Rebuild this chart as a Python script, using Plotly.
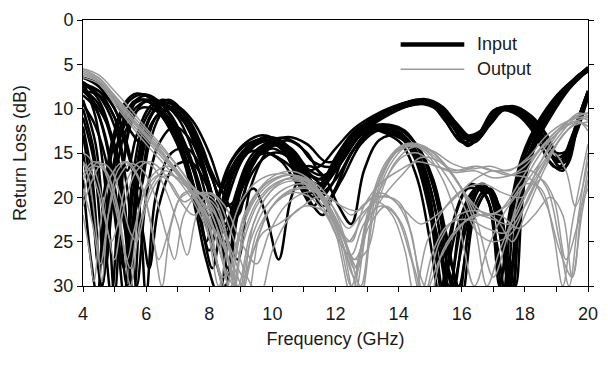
import plotly.graph_objects as go

# ---------------- data: (frequency GHz, return loss dB) ----------------
IN01 = [(4,7),(4.4,11),(4.8,22),(5.0,31),(5.3,16),(5.7,9),(6.1,8.6),(6.6,10.5),(7.1,14),(7.6,20),(8.0,26),(8.3,22),(8.7,17),(9.2,14.5),(9.8,13.2),(10.4,14.5),(11.0,17.5),(11.5,18.5),(12.0,15.5),(12.6,12.5),(13.2,11.2),(13.8,10.2),(14.4,9.2),(15.0,9.5),(15.5,11.5),(16.0,13.8),(16.5,13),(17.0,10.2),(17.5,10),(18.1,11.5),(18.7,14.5),(19.1,16),(19.5,13),(20,8.2)]
IN02 = [(4,7.5),(4.3,9),(4.7,13),(5.1,21),(5.4,30),(5.7,18),(6.1,11),(6.5,9.5),(7.0,11),(7.5,15),(8.0,21),(8.3,24),(8.7,18),(9.2,14.5),(9.8,13.5),(10.4,15),(10.9,19),(11.3,21),(11.8,17),(12.4,13.5),(13.0,12),(13.6,12.5),(14.2,13.5),(14.7,17),(15.2,24),(15.6,31),(16.0,22),(16.5,19),(16.9,21),(17.3,31),(17.6,21),(18.0,15),(18.6,10.7),(19.3,7.5),(20,5.6)]
IN03 = [(4,8),(4.5,8.5),(5.0,11),(5.4,17),(5.7,13),(6.2,9.5),(6.8,9.5),(7.3,12),(7.8,17),(8.3,24),(8.6,28),(8.9,19),(9.4,15),(10.0,13.8),(10.6,14.5),(11.2,17),(11.7,17.5),(12.2,14.5),(12.8,12),(13.4,11),(14.0,9.8),(14.6,9),(15.2,9.8),(15.7,12),(16.2,14.2),(16.6,12.8),(17.1,10),(17.7,10.2),(18.2,12),(18.8,16),(19.2,17),(19.6,12.5),(20,8.5)]
IN04 = [(4,9),(4.4,14),(4.7,25),(4.9,31),(5.2,18),(5.6,11),(6.0,9.2),(6.4,10),(6.9,13),(7.4,18),(7.8,24),(8.1,28),(8.5,20),(9.0,15.5),(9.6,13.8),(10.2,14),(10.8,17),(11.3,20),(11.8,18),(12.3,14.5),(12.9,12.5),(13.5,12.2),(14.0,13),(14.5,15.5),(15.0,22),(15.4,31),(15.8,22),(16.3,18.5),(16.8,20),(17.2,30),(17.5,22),(17.9,15.5),(18.5,11),(19.2,7.8),(20,5.8)]
IN05 = [(4,6.5),(4.5,7.2),(5.0,9),(5.5,12.5),(5.9,14),(6.3,11),(6.8,9.8),(7.3,11),(7.8,14.5),(8.3,20),(8.7,23),(9.1,18),(9.6,14.5),(10.2,13.3),(10.8,14),(11.3,16),(11.9,16.5),(12.4,14),(13.0,11.5),(13.6,10.2),(14.2,9.5),(14.8,8.9),(15.4,9.8),(15.9,12),(16.4,13.6),(16.8,12),(17.3,9.8),(17.9,10.5),(18.4,12.5),(18.9,15.5),(19.3,15),(19.7,11),(20,8)]
IN06 = [(4,10),(4.3,14),(4.6,20),(4.9,14),(5.3,9.5),(5.7,8.3),(6.2,9),(6.7,11.5),(7.2,15),(7.6,20),(7.9,25),(8.2,21),(8.6,16.5),(9.1,14),(9.7,13),(10.3,14),(10.8,16.5),(11.3,19),(11.8,17.5),(12.4,14),(13.0,12.2),(13.6,12.8),(14.1,14),(14.6,18),(15.0,25),(15.3,31),(15.7,23),(16.2,19),(16.7,19.5),(17.1,25),(17.4,31),(17.7,20),(18.1,14.5),(18.7,10.5),(19.4,7.3),(20,5.4)]
IN07 = [(4,12),(4.3,18),(4.6,30),(4.9,19),(5.3,11),(5.7,9),(6.2,9.5),(6.7,12),(7.2,16),(7.6,22),(7.9,27),(8.3,31),(8.7,22),(9.2,17),(9.8,14.5),(10.4,14.2),(11.0,17),(11.5,20),(11.9,18.5),(12.4,14),(13.0,11.8),(13.6,10.8),(14.2,9.6),(14.8,9.2),(15.3,10.4),(15.8,13),(16.3,14),(16.8,11.5),(17.3,10.2),(17.8,10.8),(18.3,12.8),(18.9,16.5),(19.3,16.5),(19.7,11.5),(20,8.5)]
IN08 = [(4,8),(4.5,10),(5.0,14),(5.3,20),(5.6,31),(5.9,17),(6.3,11),(6.7,10),(7.2,11.5),(7.7,15),(8.1,20),(8.5,25),(8.9,20),(9.4,15.5),(10.0,14),(10.6,15),(11.1,18),(11.6,21),(12.0,19),(12.5,15),(13.1,12.5),(13.7,12.8),(14.3,14),(14.8,18),(15.3,26),(15.7,31),(16.1,23),(16.6,18.5),(17.0,20),(17.4,28),(17.6,31),(17.9,19),(18.3,14),(18.9,10),(19.5,7),(20,5.3)]
IN09 = [(4,7),(4.5,9),(4.9,13),(5.2,19),(5.5,28),(5.8,16),(6.2,10.5),(6.7,9),(7.2,10.5),(7.7,14),(8.2,19),(8.6,25),(8.9,27),(9.3,19),(9.9,14.5),(10.5,13.6),(11.1,15),(11.6,17.5),(12.1,16),(12.7,13),(13.3,11.2),(13.9,10),(14.5,9.2),(15.1,9.3),(15.6,11),(16.1,13),(16.6,12.5),(17.1,10.2),(17.6,9.8),(18.2,11.2),(18.8,15),(19.2,16),(19.6,12),(20,8)]
IN10 = [(4,15),(4.3,22),(4.6,30),(4.9,18),(5.3,12),(5.8,9.5),(6.3,9),(6.8,10.8),(7.3,14.5),(7.8,20),(8.2,27),(8.5,30),(8.9,22),(9.4,19),(9.8,22),(10.2,27),(10.6,20),(11.1,16.5),(11.6,17.5),(12.1,21),(12.5,23),(12.9,17),(13.4,13.5),(14.0,13),(14.5,14.5),(15.0,19),(15.5,27),(15.9,31),(16.3,22),(16.8,19),(17.2,22),(17.5,31),(17.8,20),(18.2,14.5),(18.8,10.5),(19.4,7.5),(20,5.5)]
IN11 = [(4,7.5),(4.5,8),(5.0,10),(5.4,14.5),(5.8,19),(6.1,14),(6.5,10.5),(7.0,9.8),(7.5,11.5),(8.0,15),(8.5,20),(8.9,22),(9.3,17),(9.9,14),(10.5,13.2),(11.1,14),(11.7,16),(12.2,15.5),(12.8,12.5),(13.4,10.8),(14.0,9.6),(14.6,9),(15.2,9.4),(15.8,11.5),(16.3,13.2),(16.8,12),(17.3,10),(17.9,10.3),(18.5,12.5),(19.0,16),(19.4,15),(19.8,10),(20,8)]
IN12 = [(4,9.5),(4.4,12),(4.8,17),(5.1,25),(5.3,31),(5.6,19),(6.0,12),(6.5,9.5),(7.0,10.5),(7.5,13.5),(8.0,18.5),(8.4,24),(8.8,21),(9.3,16),(9.9,14),(10.5,14.3),(11.0,16.5),(11.5,19.5),(12.0,18),(12.6,14.5),(13.2,12.5),(13.8,12.3),(14.3,13.5),(14.8,16.5),(15.2,22),(15.6,30),(16.0,23),(16.5,18.8),(16.9,19.5),(17.3,26),(17.6,30),(17.9,17.5),(18.4,12.8),(19.0,9),(19.6,6.5),(20,5.5)]
IN13 = [(4,18),(4.25,27),(4.45,31),(4.7,20),(5.1,12),(5.5,9),(6.0,8.4),(6.5,9.5),(7.0,12.5),(7.5,17),(7.9,23),(8.2,26),(8.6,20),(9.1,15.5),(9.7,13.7),(10.3,13.8),(10.9,16),(11.4,18),(11.9,16.8),(12.5,13.5),(13.1,11.7),(13.7,10.5),(14.3,9.4),(14.9,9.1),(15.4,10.2),(16.0,13.2),(16.5,13.5),(17.0,10.8),(17.5,9.8),(18.0,10.8),(18.6,13.5),(19.1,16.5),(19.5,14),(20,8.8)]
IN14 = [(4,11),(4.35,16),(4.7,28),(4.95,20),(5.3,13),(5.8,10),(6.3,10.2),(6.8,12.5),(7.3,16.5),(7.7,21),(8.0,23),(8.4,19),(8.9,15.5),(9.5,13.6),(10.1,13.3),(10.7,15),(11.2,18),(11.7,20.5),(12.2,18),(12.8,14),(13.4,12.4),(14.0,12.8),(14.5,14.8),(15.0,20),(15.4,30),(15.8,24),(16.3,19.5),(16.7,18.5),(17.2,24),(17.5,30),(17.8,21),(18.2,15),(18.8,11),(19.4,7.8),(20,5.7)]
IN15 = [(4,7),(4.5,8.5),(5.0,12),(5.4,19),(5.7,30),(6.0,20),(6.4,14),(6.9,12),(7.4,13.5),(7.9,17.5),(8.3,22),(8.6,24),(9.0,19),(9.5,15.5),(10.0,14.5),(10.5,15.5),(11.0,17),(11.5,16.5),(12.0,14.5),(12.6,12.2),(13.2,10.8),(13.8,9.8),(14.4,9.2),(15.0,9.2),(15.6,10.8),(16.1,13),(16.6,13),(17.1,10.5),(17.6,9.7),(18.2,10.8),(18.7,13),(19.1,15.5),(19.5,13.5),(20,8.2)]
IN16 = [(4,6.5),(4.5,7.5),(5.0,10),(5.4,14),(5.8,22),(6.0,31),(6.3,20),(6.8,15),(7.3,14.5),(7.8,17),(8.2,21),(8.5,23),(8.9,19),(9.3,16),(9.8,15),(10.4,16),(11.0,18),(11.4,19),(11.9,17),(12.5,13.5),(13.1,12),(13.7,11.8),(14.2,12.5),(14.7,15),(15.2,20),(15.7,28),(16.0,31),(16.4,22),(16.9,19),(17.3,23),(17.6,31),(17.9,19),(18.3,13.5),(18.9,9.8),(19.5,7),(20,5.4)]
IN17 = [(4,8.5),(4.4,10),(4.8,15),(5.1,24),(5.3,28),(5.6,17),(6.0,11),(6.5,9),(7.0,9.8),(7.5,12.5),(8.0,16.5),(8.4,19),(8.8,17),(9.2,15),(9.7,14.8),(10.3,16),(10.8,18.5),(11.3,19.5),(11.8,17),(12.4,13.8),(13.0,11.5),(13.6,10.5),(14.2,9.8),(14.8,9.5),(15.4,10.5),(15.9,12.5),(16.4,13.8),(16.9,11.8),(17.4,10),(18.0,10.5),(18.5,12),(19.0,15),(19.4,14.5),(19.8,10),(20,8.3)]
IN18 = [(4,13),(4.3,20),(4.5,28),(4.8,20),(5.2,12.5),(5.6,9.5),(6.1,9),(6.6,10.5),(7.1,13.5),(7.6,18),(8.0,22),(8.3,20),(8.7,16),(9.2,14),(9.8,13.5),(10.4,15),(10.9,18.5),(11.3,21),(11.6,22),(12.0,19),(12.6,14.5),(13.2,12.5),(13.8,12),(14.3,13),(14.9,16.5),(15.3,22),(15.7,30),(16.1,24),(16.6,19),(17.0,19.5),(17.4,26),(17.7,30),(18.0,18),(18.5,12.8),(19.1,9),(19.7,6.2),(20,5.6)]
IN19 = [(4,7.8),(4.5,9.5),(5.0,15),(5.3,23),(5.5,26),(5.8,17),(6.2,11.5),(6.7,10),(7.2,11),(7.7,14.5),(8.1,18),(8.5,21),(8.9,20),(9.4,16),(9.9,14.2),(10.5,14.6),(11.1,17),(11.6,18.5),(12.1,16.5),(12.7,13),(13.3,11.5),(13.9,10.3),(14.5,9.5),(15.1,9.6),(15.7,11.8),(16.2,14),(16.7,12.5),(17.2,10.3),(17.8,10.3),(18.3,11.8),(18.9,15.5),(19.3,16),(19.7,11.2),(20,8.6)]
IN20 = [(4,7.2),(4.5,8),(5.0,11),(5.5,16),(5.9,24),(6.1,28),(6.4,21),(6.9,16.5),(7.4,16),(7.9,18.5),(8.3,23),(8.6,29),(8.9,22),(9.4,17),(10.0,15),(10.6,15.5),(11.2,17.5),(11.7,18),(12.2,16),(12.8,13),(13.4,12),(14.0,12.3),(14.6,14.2),(15.1,18),(15.5,24),(15.9,30),(16.3,23),(16.8,19.5),(17.2,21),(17.5,28),(17.8,24),(18.1,16),(18.7,11),(19.3,7.8),(20,5.5)]

OUT01 = [(4,5.6),(4.5,6.5),(5.0,8.5),(5.5,10.5),(6.0,12.5),(6.5,14.5),(7.0,16.5),(7.5,19),(8.0,22.5),(8.4,27),(8.7,31),(9.0,26),(9.5,21),(10.0,18.8),(10.6,17.8),(11.2,18.5),(11.7,21),(12.2,25),(12.6,31),(13.0,23),(13.5,17),(14.0,14.5),(14.5,14),(15.0,15),(15.5,16.5),(16.0,17),(16.5,16.5),(17.0,17),(17.5,17.5),(18.0,16.5),(18.6,14),(19.2,12),(20,11)]
OUT02 = [(4,6),(4.5,6.8),(5.0,8.8),(5.5,11),(6.0,13),(6.5,15),(7.0,17),(7.5,19.5),(8.0,23),(8.5,31),(8.8,26),(9.2,21.5),(9.8,18.5),(10.4,17.5),(11.0,18),(11.6,20.5),(12.1,24.5),(12.5,30),(12.9,24),(13.4,18),(13.9,15),(14.5,14.2),(15.1,14.8),(15.7,16.2),(16.3,16.8),(16.9,16.5),(17.5,17),(18.1,15.5),(18.7,13),(19.3,11.5),(20,10.8)]
OUT03 = [(4,6.2),(4.5,7),(5.0,9.2),(5.5,11.5),(6.0,13.5),(6.5,15.5),(7.0,17.5),(7.5,20),(7.9,23),(8.3,30),(8.6,25),(9.0,20.5),(9.6,18),(10.3,17.3),(10.9,18),(11.5,20.5),(12.0,24),(12.5,31),(13.0,22),(13.6,16),(14.2,14),(14.8,14.8),(15.4,18),(15.9,23),(16.4,30),(16.8,26),(17.3,22),(17.9,19),(18.5,16),(19.1,13),(19.6,11),(20,10.5)]
OUT04 = [(4,16),(4.2,18),(4.45,25),(4.6,29.5),(4.8,22),(5.1,17),(5.4,16),(5.8,18),(6.2,24),(6.5,30),(6.8,23),(7.2,19.5),(7.7,19.5),(8.2,23),(8.7,31),(9.1,24),(9.6,20),(10.2,18.2),(10.8,18),(11.4,19.5),(11.9,22),(12.4,25),(12.9,22),(13.4,20),(14.0,20.5),(14.4,24),(14.8,31),(15.3,25),(15.9,22),(16.5,21.5),(17.1,22.5),(17.6,25),(18.0,22),(18.6,17),(19.2,13),(19.7,11.5),(20,12)]
OUT05 = [(4,18),(4.3,16.5),(4.7,17),(5.0,20),(5.3,26),(5.5,30),(5.8,23),(6.2,18.5),(6.6,17),(7.0,18),(7.5,19.5),(8.0,21.5),(8.5,26),(8.9,31),(9.3,25),(9.8,21),(10.4,19),(11.0,18.5),(11.6,20),(12.1,23),(12.5,26.5),(12.9,23),(13.4,21),(13.9,22),(14.4,27),(14.7,31),(15.1,26),(15.6,23),(16.2,22.5),(16.8,23.5),(17.4,24),(18.0,21),(18.5,18),(18.9,20),(19.3,27),(19.6,24),(20,17)]
OUT06 = [(4,20),(4.25,17),(4.5,16),(4.8,17.5),(5.1,21),(5.4,27),(5.6,24),(6.0,19),(6.4,17.5),(6.8,18.5),(7.2,20.5),(7.7,19.5),(8.2,20.5),(8.6,25),(9.0,31),(9.4,26),(9.9,21.5),(10.5,19.5),(11.1,19),(11.7,20.5),(12.2,24),(12.6,28),(13.0,23),(13.5,20),(14.1,17.5),(14.7,15.5),(15.3,16),(15.9,18.5),(16.4,23),(16.8,30),(17.2,26),(17.8,21),(18.4,17),(19.0,14),(19.5,12),(20,11.5)]
OUT07 = [(4,5.8),(4.5,6.6),(5.0,8.6),(5.5,10.8),(6.0,12.8),(6.5,14.8),(7.0,17.2),(7.5,19.7),(8.0,23.5),(8.4,29),(8.7,28),(9.1,22),(9.7,18.7),(10.3,17.6),(10.9,17.7),(11.5,19.5),(12.0,23),(12.4,27),(12.8,31),(13.2,22),(13.7,16.5),(14.3,14.2),(14.9,14.5),(15.5,16.5),(16.1,19.5),(16.6,22),(17.2,21.5),(17.8,18.5),(18.4,15),(19.0,12.5),(19.6,11),(20,11.3)]
OUT08 = [(4,22),(4.2,26),(4.35,29.5),(4.55,23),(4.9,17.5),(5.3,16),(5.7,17.5),(6.1,22),(6.4,27),(6.7,24),(7.1,20),(7.6,19.5),(8.1,21),(8.6,27),(8.9,31),(9.3,27),(9.7,24),(10.2,23),(10.8,21.5),(11.4,20),(12.0,20.5),(12.5,22),(12.9,20.8),(13.4,19.5),(13.9,20.5),(14.3,23),(14.7,29),(15.0,31),(15.4,26),(16.0,23),(16.6,22),(17.2,22),(17.8,23.5),(18.3,22),(18.8,20),(19.2,22),(19.5,29),(19.8,22),(20,18)]
OUT09 = [(4,17.5),(4.3,16),(4.6,16.5),(4.9,19.5),(5.2,24),(5.5,28),(5.8,21),(6.2,17.5),(6.7,16.5),(7.2,18),(7.7,19.5),(8.2,22),(8.7,28),(9.0,31),(9.4,23),(9.9,19.5),(10.5,18.2),(11.1,18.5),(11.7,21),(12.2,25),(12.6,29),(13.0,22.5),(13.5,18.5),(14.1,15.5),(14.6,15),(15.2,16.5),(15.8,17.2),(16.4,17),(17.0,17.8),(17.6,17.5),(18.2,17),(18.7,19),(19.1,25),(19.4,30),(19.7,22),(20,15)]
OUT10 = [(4,6.5),(4.5,7.2),(5.0,9.5),(5.5,11.8),(6.0,14),(6.5,16),(7.0,18),(7.5,20.5),(7.9,23.5),(8.3,28),(8.6,31),(9.0,24),(9.5,20),(10.1,18),(10.7,17.5),(11.3,18.5),(11.8,21.5),(12.3,25),(12.7,28),(13.1,21),(13.6,16.5),(14.2,14.2),(14.8,14.6),(15.4,17),(16.0,20.5),(16.5,24),(17.0,25),(17.6,24),(18.1,20),(18.6,16.5),(19.2,13),(19.7,11.5),(20,12.5)]
OUT11 = [(4,15),(4.2,15.5),(4.5,18.5),(4.8,24),(5.0,27),(5.3,21),(5.7,17),(6.1,16),(6.5,17),(7.0,20),(7.5,22),(7.9,21),(8.3,22.5),(8.8,28),(9.2,31),(9.6,24),(10.1,20.5),(10.7,19),(11.3,19),(11.9,21),(12.4,23.5),(12.8,22),(13.3,20.5),(13.8,22),(14.2,26),(14.5,31),(14.9,25),(15.5,21),(16.1,19),(16.7,18.5),(17.3,19.5),(17.9,20),(18.4,17.5),(18.9,15),(19.3,17),(19.6,21),(20,16)]
OUT12 = [(4,5.5),(4.5,6.2),(5.0,8),(5.5,10),(6.0,12.2),(6.5,14.2),(7.0,16.5),(7.5,19),(8.0,22),(8.5,28),(8.8,30),(9.1,23),(9.6,19),(10.2,17.3),(10.8,17.2),(11.4,18.8),(11.9,22),(12.4,26),(12.8,30),(13.2,21),(13.7,16),(14.2,14),(14.8,14.2),(15.4,16),(16.0,19),(16.5,23),(17.0,29),(17.4,25),(17.9,19),(18.5,15),(19.1,12.5),(19.7,10.5),(20,10.8)]
OUT13 = [(4,19),(4.3,23),(4.55,27.5),(4.8,22),(5.1,18),(5.5,16.2),(5.9,17),(6.3,20),(6.7,25),(6.9,27),(7.2,22),(7.7,19.5),(8.2,20),(8.7,24),(9.2,29),(9.6,31),(10.0,26),(10.5,22.5),(11.0,21),(11.6,21.5),(12.1,23.5),(12.5,25),(12.9,21),(13.4,18.5),(14.0,17),(14.6,16),(15.2,16.5),(15.8,17),(16.4,16.5),(17.0,17),(17.6,16.8),(18.2,15.5),(18.8,13.5),(19.3,12),(19.7,11.5),(20,12)]
OUT14 = [(4,21),(4.3,18),(4.6,16.2),(4.9,17),(5.2,20),(5.5,24),(5.7,25),(6.0,21),(6.4,18),(6.8,17.5),(7.3,18.5),(7.7,19.5),(8.2,21),(8.7,26),(9.1,29),(9.5,24),(10.0,21),(10.6,19.5),(11.2,20),(11.7,22),(12.2,25.5),(12.6,27),(13.1,23),(13.6,21),(14.1,23),(14.5,28),(14.8,31),(15.3,27),(15.8,24),(16.4,22),(17.0,22.5),(17.5,23),(18.0,20),(18.5,16),(19.0,13),(19.5,11),(20,10.5)]
OUT15 = [(4,6),(4.5,6.9),(5.0,9),(5.5,11.2),(6.0,13.2),(6.5,15.2),(7.0,17.3),(7.5,19.8),(8.0,22.5),(8.5,26),(8.9,30),(9.3,24),(9.8,20),(10.4,18),(11.0,17.8),(11.6,19.2),(12.1,22.5),(12.6,27),(13.0,26),(13.4,20),(13.9,16),(14.5,14.3),(15.1,15),(15.7,17.5),(16.2,20),(16.8,22),(17.4,21),(18.0,18.5),(18.5,19),(18.9,24),(19.2,30),(19.5,23),(20,14)]
OUT16 = [(4,16),(4.3,17.5),(4.6,21),(4.9,25),(5.1,23),(5.4,18),(5.8,16),(6.2,16.5),(6.6,19),(7.0,23),(7.3,26.5),(7.6,22),(8.0,19.5),(8.5,21),(9.0,25),(9.5,27.5),(9.9,24),(10.4,21),(11.0,19.5),(11.6,19.5),(12.2,21),(12.7,21.5),(13.2,20),(13.7,20),(14.2,21.5),(14.7,23),(15.2,22),(15.8,20),(16.4,18),(17.0,17),(17.6,17.5),(18.2,18),(18.7,21),(19.1,26),(19.5,29),(19.8,21),(20,19)]

INPUT_CURVES = [IN01, IN02, IN03, IN04, IN05, IN06, IN07, IN08, IN09, IN10,
                IN11, IN12, IN13, IN14, IN15, IN16, IN17, IN18, IN19, IN20]
OUTPUT_CURVES = [OUT01, OUT02, OUT03, OUT04, OUT05, OUT06, OUT07, OUT08,
                 OUT09, OUT10, OUT11, OUT12, OUT13, OUT14, OUT15, OUT16]

X_TICKS = [4, 6, 8, 10, 12, 14, 16, 18, 20]
Y_TICKS = [0, 5, 10, 15, 20, 25, 30]
SERIES_NAMES = ["Input", "Output"]

BLACK = "#000000"
GRAY = "#999999"
FONT = "Liberation Sans, Arial, sans-serif"
TXT = "#1a1a1a"

fig = go.Figure()

for curve in INPUT_CURVES:
    fig.add_trace(go.Scatter(
        x=[p[0] for p in curve], y=[p[1] for p in curve],
        mode="lines", line=dict(color=BLACK, width=2.5, shape="spline", smoothing=1.0),
        name=SERIES_NAMES[0], legendgroup="in", showlegend=False, hoverinfo="skip"))

for curve in OUTPUT_CURVES:
    fig.add_trace(go.Scatter(
        x=[p[0] for p in curve], y=[p[1] for p in curve],
        mode="lines", line=dict(color=GRAY, width=1.5, shape="spline", smoothing=1.0),
        name=SERIES_NAMES[1], legendgroup="out", showlegend=False, hoverinfo="skip"))

# manual legend (line samples + labels)
fig.add_shape(type="line", xref="paper", yref="paper", x0=0.629, x1=0.755, y0=0.908, y1=0.908,
              line=dict(color=BLACK, width=4.5))
fig.add_shape(type="line", xref="paper", yref="paper", x0=0.629, x1=0.755, y0=0.815, y1=0.815,
              line=dict(color=GRAY, width=1.4))
fig.add_annotation(xref="paper", yref="paper", x=0.776, y=0.908, text=SERIES_NAMES[0],
                   showarrow=False, xanchor="left", yanchor="middle",
                   font=dict(family=FONT, size=18, color=TXT))
fig.add_annotation(xref="paper", yref="paper", x=0.776, y=0.815, text=SERIES_NAMES[1],
                   showarrow=False, xanchor="left", yanchor="middle",
                   font=dict(family=FONT, size=18, color=TXT))

fig.update_layout(
    width=608, height=365,
    margin=dict(l=83, r=10, t=15, b=79),
    paper_bgcolor="white", plot_bgcolor="white",
    showlegend=False,
    font=dict(family=FONT, size=18, color=TXT),
    xaxis=dict(
        range=[4, 20], tickvals=X_TICKS, ticks="outside", ticklen=5, tickwidth=1,
        tickcolor="black", showline=True, linecolor="black", linewidth=1, mirror=True,
        showgrid=False, zeroline=False, ticklabelstandoff=6,
        minor=dict(dtick=1, ticks="outside", ticklen=5, tickcolor="black", showgrid=False),
        title=dict(text="Frequency (GHz)", standoff=9, font=dict(size=18)),
        tickfont=dict(size=18),
    ),
    yaxis=dict(
        range=[30, 0], tickvals=Y_TICKS, ticks="outside", ticklen=5, tickwidth=1,
        tickcolor="black", showline=True, linecolor="black", linewidth=1, mirror="ticks",
        showgrid=False, zeroline=False,
        title=dict(text="Return Loss (dB)", standoff=22, font=dict(size=18)),
        tickfont=dict(size=18),
    ),
)

fig.write_html("out.html")
